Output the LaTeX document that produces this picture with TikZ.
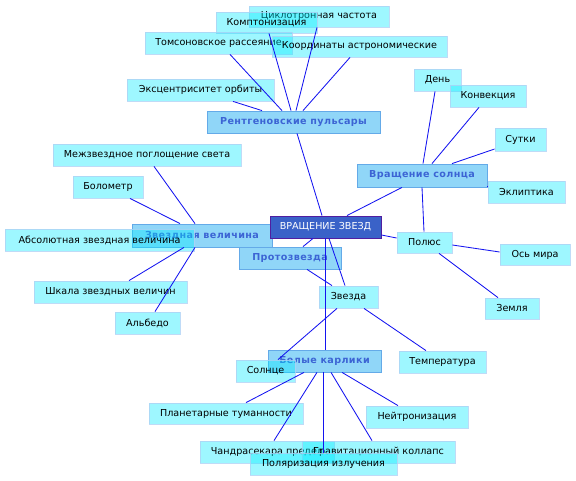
\documentclass[tikz,border=0pt]{standalone}
\usepackage{fontspec}
\setmainfont{DejaVu Sans}
\newfontfamily\catfont[LetterSpace=4]{DejaVu Sans Bold}
\definecolor{leaffill}{RGB}{0,235,255}
\definecolor{leafdraw}{RGB}{175,210,245}
\definecolor{catfill}{RGB}{138,212,248}
\definecolor{catdraw}{RGB}{100,170,232}
\definecolor{cattext}{RGB}{60,100,212}
\definecolor{cenfill}{RGB}{58,98,200}
\definecolor{cendraw}{RGB}{80,30,160}
\definecolor{linkcol}{RGB}{20,20,240}
\tikzset{
  leaf/.style={rectangle, fill=leaffill, fill opacity=0.38, text opacity=1, draw=leafdraw, draw opacity=0.8, line width=0.8pt, inner sep=0pt, font=\fontsize{9.6}{11}\selectfont, text=black},
  cat/.style={rectangle, fill=catfill, fill opacity=0.95, text opacity=1, draw=catdraw, line width=0.8pt, inner sep=0pt, font=\catfont\fontsize{9.6}{11}\selectfont, text=cattext},
  cen/.style={rectangle, fill=cenfill, draw=cendraw, line width=0.9pt, inner sep=0pt, font=\fontsize{9.6}{11}\selectfont, text=white},
  link/.style={draw=linkcol, line width=0.85pt}
}
\begin{document}
\begin{tikzpicture}[x=1pt,y=-1pt]
\useasboundingbox (0,0) rectangle (576,481);
% top cluster
\node[leaf, minimum width=140pt, minimum height=21pt] (cyc) at (319,16.5) {Циклотронная частота};
\node[leaf, minimum width=101pt, minimum height=21pt] (komp) at (266.5,22.5) {Комптонизация};
\node[leaf, minimum width=147pt, minimum height=22pt] (toms) at (218.5,43) {Томсоновское рассеяние};
\node[leaf, minimum width=175pt, minimum height=21pt] (koord) at (359.5,46.5) {Координаты астрономические};
\node[leaf, minimum width=147pt, minimum height=22pt] (ecc) at (200.5,90) {Эксцентриситет орбиты};
\node[cat, minimum width=173pt, minimum height=22pt] (rp) at (293.5,122) {Рентгеновские пульсары};
% right cluster
\node[leaf, minimum width=47pt, minimum height=22pt] (den) at (437.5,80) {День};
\node[leaf, minimum width=76pt, minimum height=22pt] (konv) at (488,96) {Конвекция};
\node[leaf, minimum width=51pt, minimum height=23pt] (sut) at (520.5,139.5) {Сутки};
\node[cat, minimum width=130pt, minimum height=23pt] (vs) at (422,175.5) {Вращение солнца};
\node[leaf, minimum width=77pt, minimum height=22pt] (ekl) at (526.5,192) {Эклиптика};
\node[leaf, minimum width=55pt, minimum height=21pt] (pol) at (424.5,242.5) {Полюс};
\node[leaf, minimum width=70pt, minimum height=21pt] (os) at (535,254.5) {Ось мира};
\node[leaf, minimum width=54pt, minimum height=21pt] (zem) at (512,308.5) {Земля};
% left cluster
\node[leaf, minimum width=188pt, minimum height=22pt] (mezh) at (147,155) {Межзвездное поглощение света};
\node[leaf, minimum width=70pt, minimum height=22pt] (bol) at (108,187) {Болометр};
\node[cat, minimum width=140pt, minimum height=23pt] (zv) at (202,235.5) {Звездная величина};
\node[leaf, minimum width=189pt, minimum height=22pt] (abs) at (99.5,240) {Абсолютная звездная величина};
\node[leaf, minimum width=153pt, minimum height=22pt] (shk) at (110.5,292) {Шкала звездных величин};
\node[leaf, minimum width=65pt, minimum height=22pt] (alb) at (147.5,323) {Альбедо};
% centre
\node[cen, minimum width=111pt, minimum height=22pt] (center) at (325.5,227) {ВРАЩЕНИЕ ЗВЕЗД};
\node[cat, minimum width=102pt, minimum height=22pt] (proto) at (290,258) {Протозвезда};
\node[leaf, minimum width=59pt, minimum height=22pt] (zvezda) at (348.5,297) {Звезда};
% bottom cluster
\node[cat, minimum width=113pt, minimum height=22pt] (bk) at (324.5,361) {Белые карлики};
\node[leaf, minimum width=59pt, minimum height=22pt] (sol) at (265.5,371) {Солнце};
\node[leaf, minimum width=87pt, minimum height=22pt] (temp) at (442.5,362) {Температура};
\node[leaf, minimum width=154pt, minimum height=21pt] (plan) at (226,413.5) {Планетарные туманности};
\node[leaf, minimum width=102pt, minimum height=22pt] (neut) at (417,417) {Нейтронизация};
\node[leaf, minimum width=134pt, minimum height=22pt] (chand) at (267,452) {Чандрасекара предел};
\node[leaf, minimum width=153pt, minimum height=22pt] (grav) at (378.5,452) {Гравитационный коллапс};
\node[leaf, minimum width=147pt, minimum height=22pt] (polar) at (323.5,464) {Поляризация излучения};
% links
\draw[link] ([xshift=3.5pt]rp.south) -- ([xshift=-3.5pt]center.north);
\draw[link] ([xshift=21.5pt]center.north) -- ([xshift=-20pt]vs.south);
\draw[link] ([yshift=-8pt]center.east) -- ([yshift=4.5pt]pol.west);
\draw[link] ([xshift=-12.5pt]center.south) -- ([xshift=13pt]proto.north);
\draw[link] ([xshift=3.5pt]center.south) -- ([xshift=-3.5pt]zvezda.north);
\draw[link] ([xshift=-0.5pt]center.south) -- ([xshift=0.5pt]bk.north);
\draw[link] ([xshift=17pt]proto.south) -- ([xshift=-16.5pt]zvezda.north);
\draw[link] ([xshift=-11.5pt]zvezda.south) -- ([xshift=12.5pt]sol.north);
\draw[link] ([xshift=15.5pt]zvezda.south) -- ([xshift=-16.5pt]temp.north);
\draw[link] ([xshift=32.5pt]ecc.south) -- ([xshift=-31.5pt]rp.north);
\draw[link] ([xshift=11.5pt]toms.south) -- ([xshift=-11.5pt]rp.north);
\draw[link] ([xshift=2.5pt]komp.south) -- ([xshift=-2.5pt]rp.north);
\draw[link] ([xshift=-2pt]cyc.south) -- ([xshift=2.5pt]rp.north);
\draw[link] ([xshift=-9.5pt]koord.south) -- ([xshift=9.5pt]rp.north);
\draw[link] ([xshift=-2.5pt]den.south) -- ([xshift=1pt]vs.north);
\draw[link] ([xshift=-9pt]konv.south) -- ([xshift=10pt]vs.north);
\draw[link] ([yshift=-9.5pt]sut.west) -- ([xshift=30pt]vs.north);
\draw[link] ([yshift=-10.5pt]vs.east) -- ([yshift=6pt]ekl.west);
\draw[link] (vs.south) -- ([xshift=-0.5pt]pol.north);
\draw[link] ([yshift=-2.5pt]pol.east) -- ([yshift=2.5pt]os.west);
\draw[link] ([xshift=14.5pt]pol.south) -- ([xshift=-14pt]zem.north);
\draw[link] ([xshift=7pt]mezh.south) -- ([xshift=-7pt]zv.north);
\draw[link] ([xshift=22pt]bol.south) -- ([xshift=-22pt]zv.north);
\draw[link] ([xshift=18.5pt]shk.north) -- ([xshift=-18pt]zv.south);
\draw[link] ([xshift=7.5pt]alb.north) -- ([xshift=-7pt]zv.south);
\draw[link] ([xshift=-20.5pt]bk.south) -- ([xshift=20pt]plan.north);
\draw[link] ([xshift=-7.5pt]bk.south) -- ([xshift=7pt]chand.north);
\draw[link] ([xshift=-1.5pt]bk.south) -- ([xshift=-0.5pt]polar.north);
\draw[link] ([xshift=6.5pt]bk.south) -- ([xshift=-6.5pt]grav.north);
\draw[link] ([xshift=17.5pt]bk.south) -- ([xshift=-19pt]neut.north);
\end{tikzpicture}
\end{document}
